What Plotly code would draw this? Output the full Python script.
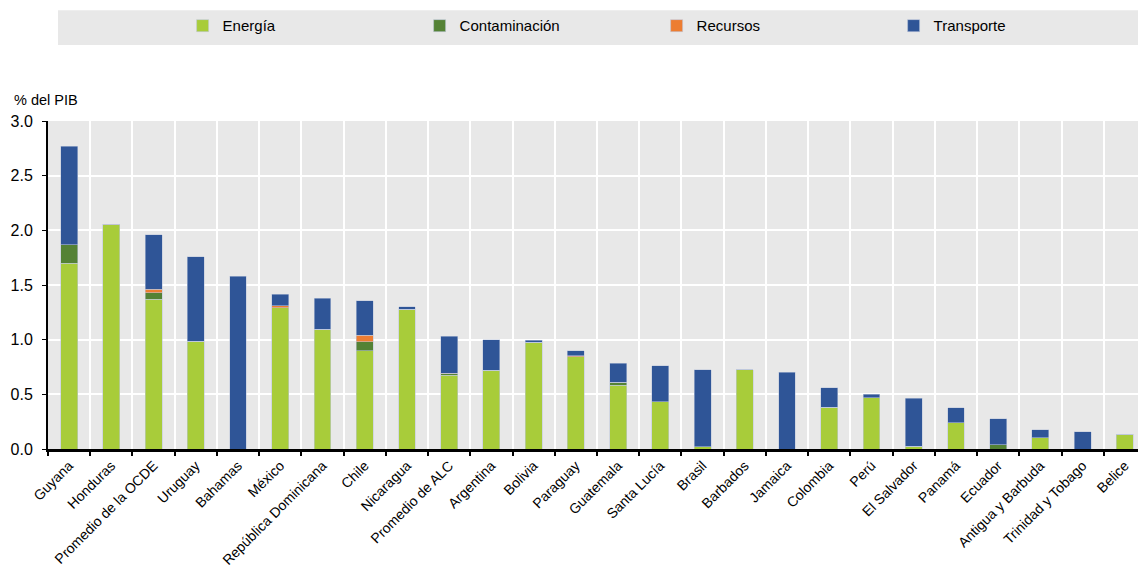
import plotly.graph_objects as go

categories = ["Guyana", "Honduras", "Promedio de la OCDE", "Uruguay", "Bahamas", "México",
              "República Dominicana", "Chile", "Nicaragua", "Promedio de ALC", "Argentina",
              "Bolivia", "Paraguay", "Guatemala", "Santa Lucía", "Brasil", "Barbados",
              "Jamaica", "Colombia", "Perú", "El Salvador", "Panamá", "Ecuador",
              "Antigua y Barbuda", "Trinidad y Tobago", "Belice"]

energia = [1.70, 2.05, 1.37, 0.985, 0.0, 1.29, 1.095, 0.90, 1.28, 0.675, 0.72, 0.975, 0.845,
           0.585, 0.43, 0.02, 0.725, 0.0, 0.38, 0.47, 0.025, 0.24, 0.0, 0.105, 0.0, 0.135]
contaminacion = [0.17, 0.0, 0.06, 0.0, 0.0, 0.0, 0.0, 0.08, 0.0, 0.015, 0.0, 0.0, 0.0,
                 0.025, 0.0, 0.0, 0.0, 0.0, 0.0, 0.0, 0.0, 0.0, 0.04, 0.0, 0.0, 0.0]
recursos = [0.0, 0.005, 0.03, 0.0, 0.0, 0.02, 0.0, 0.06, 0.0, 0.005, 0.0, 0.0, 0.01,
            0.0, 0.0, 0.0, 0.0, 0.0, 0.0, 0.0, 0.0, 0.0, 0.0, 0.0, 0.0, 0.0]
transporte = [0.90, 0.0, 0.50, 0.775, 1.58, 0.105, 0.285, 0.317, 0.02, 0.335, 0.277, 0.02,
              0.042, 0.175, 0.33, 0.705, 0.0, 0.70, 0.18, 0.033, 0.44, 0.138, 0.237, 0.069,
              0.158, 0.0]

series = [
    ("Energía", energia, "#A8CC3A"),
    ("Contaminación", contaminacion, "#548235"),
    ("Recursos", recursos, "#ED7D31"),
    ("Transporte", transporte, "#2F5597"),
]

FONT = "Liberation Sans Narrow, Arial Narrow, Liberation Sans, Arial, sans-serif"

fig = go.Figure()
for name, vals, color in series:
    fig.add_trace(go.Bar(
        x=categories, y=vals, name=name,
        marker=dict(color=color, line=dict(color="rgba(190,200,220,0.9)", width=0.6)),
    ))

# page has an 8px body margin, so the figure is 8px smaller and margins shifted
fig.update_layout(
    barmode="stack",
    bargap=0.6,
    width=1138, height=560,
    margin=dict(l=40, r=0, t=113, b=119, autoexpand=False),
    paper_bgcolor="white",
    plot_bgcolor="#E8E8E8",
    font=dict(family=FONT, size=14, color="#000"),
    legend=dict(
        orientation="h", x=0.1226, xanchor="left", y=1.29, yanchor="middle",
        entrywidth=192, entrywidthmode="pixels",
        bgcolor="rgba(0,0,0,0)", font=dict(size=15, family=FONT),
        itemclick=False, traceorder="normal",
    ),
    shapes=[dict(type="rect", xref="paper", yref="paper", x0=0.0091, x1=1.0,
                 y0=1.232, y1=1.338, fillcolor="#E8E8E8", line=dict(width=0), layer="below")],
    annotations=[dict(text="% del PIB", xref="paper", yref="paper", x=-0.033, y=1.033,
                      xanchor="left", yanchor="bottom", showarrow=False,
                      font=dict(size=14.5, family=FONT))],
)

fig.update_xaxes(
    type="category", tickson="boundaries",
    showgrid=True, gridcolor="white", gridwidth=2,
    showline=True, linecolor="black", linewidth=3,
    ticks="outside", tickcolor="black", ticklen=4, tickwidth=1.5,
    tickangle=-45, tickfont=dict(size=14, family=FONT), automargin=False,
)
fig.update_yaxes(
    range=[0, 3], dtick=0.5, tickformat=".1f",
    showgrid=True, gridcolor="white", gridwidth=2, zeroline=False,
    showline=True, linecolor="black", linewidth=2,
    ticks="outside", tickcolor="black", ticklen=4, ticklabelstandoff=6,
    tickfont=dict(size=16, family=FONT), automargin=False,
)

fig.write_html("out.html")
